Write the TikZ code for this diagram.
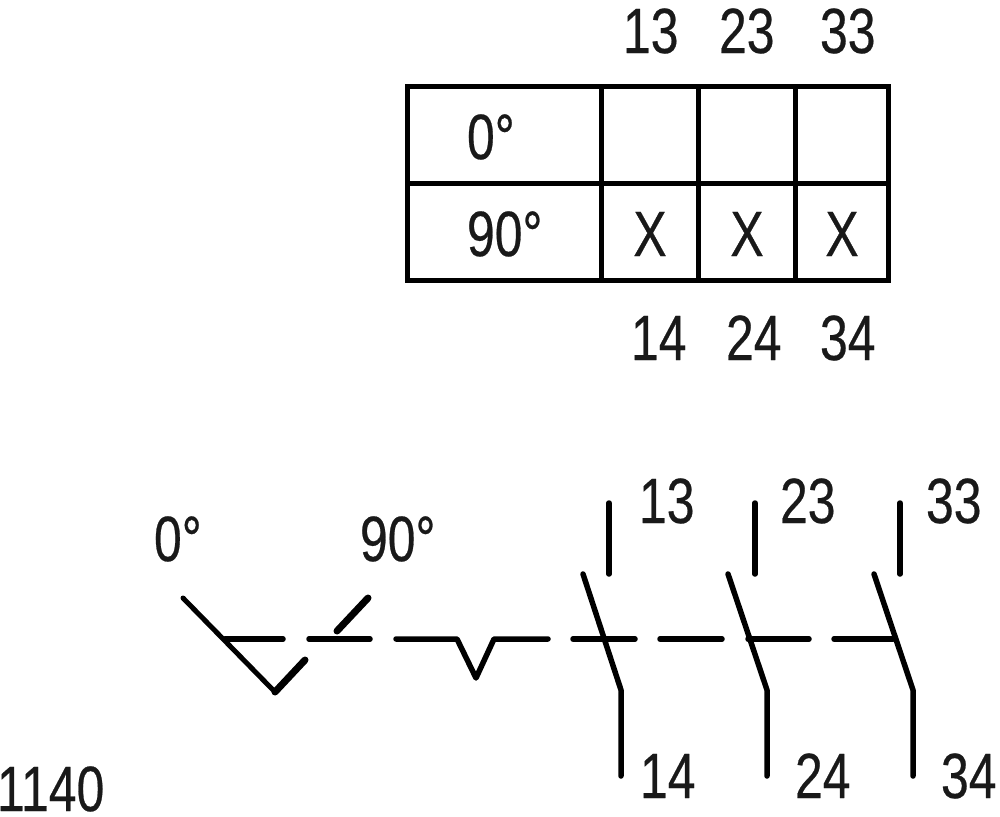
\documentclass[tikz,border=0pt]{standalone}
\usepackage{fontspec}
\setmainfont[FakeStretch=0.78,FakeBold=0.4]{Liberation Sans}
\begin{document}
\begin{tikzpicture}[x=1pt,y=-1pt,
  lbl/.style={inner sep=0pt,outer sep=0pt,anchor=base west,font=\fontsize{64}{64}\selectfont,text=black!90},
  lblc/.style={lbl,anchor=base},
  wire/.style={line width=5.5pt,line cap=round,line join=round,black},
  thin wire/.style={line width=5pt,line cap=round,line join=round,black},
  thick wire/.style={line width=7pt,line cap=round,line join=round,black},
  grid line/.style={line width=5pt,line cap=rect,black}]
\useasboundingbox (0,0) rectangle (1000,816);
% table
\draw[grid line] (407.5,86.5) rectangle (888.5,280);
\draw[grid line] (407.5,183) -- (888.5,183);
\foreach \x in {601,698,795} \draw[grid line] (\x,86.5) -- (\x,280);
\node[lbl] (t13) at (623,53) {13};
\node[lbl] (t23) at (719,53) {23};
\node[lbl] (t33) at (820,53) {33};
\node[lbl] (t14) at (631,360) {14};
\node[lbl] (t24) at (726,360) {24};
\node[lbl] (t34) at (820,360) {34};
\node[lbl] (r0) at (467,159) {0°};
\node[lbl] (r90) at (467,256) {90°};
\node[lblc] (x1) at (650,256) {X};
\node[lblc] (x2) at (747,256) {X};
\node[lblc] (x3) at (842,256) {X};
% actuator
\draw[thin wire] (183,598) -- (275,692);
\draw[thick wire] (275,692) -- (305,660);
\draw[thick wire] (337,631) -- (368,598);
\node[lbl] (s0) at (154,561) {0°};
\node[lbl] (s90) at (360,561) {90°};
% linkage
\draw[wire] (225,639) -- (283,639);
\draw[wire] (309,639) -- (370,639);
\draw[wire] (396,639) -- (457,639) -- (476,678) -- (494,639) -- (548,639);
\draw[wire] (573,639) -- (635,639);
\draw[wire] (660,639) -- (722,639);
\draw[wire] (748,639) -- (809,639);
\draw[wire] (834,639) -- (893,639);
% contacts
\draw[wire] (609,503) -- (609,574);
\draw[wire] (583,574) -- (621,690) -- (621,776);
\draw[wire] (755,503) -- (755,574);
\draw[wire] (728,574) -- (767,690) -- (767,776);
\draw[wire] (900,503) -- (900,574);
\draw[wire] (874,574) -- (913,690) -- (913,776);
\node[lbl] (c13) at (639,523) {13};
\node[lbl] (c23) at (780,523) {23};
\node[lbl] (c33) at (926,523) {33};
\node[lbl] (c14) at (640,798) {14};
\node[lbl] (c24) at (795,798) {24};
\node[lbl] (c34) at (941,798) {34};
\node[lbl] (code) at (-3,811) {1140};
\end{tikzpicture}
\end{document}
